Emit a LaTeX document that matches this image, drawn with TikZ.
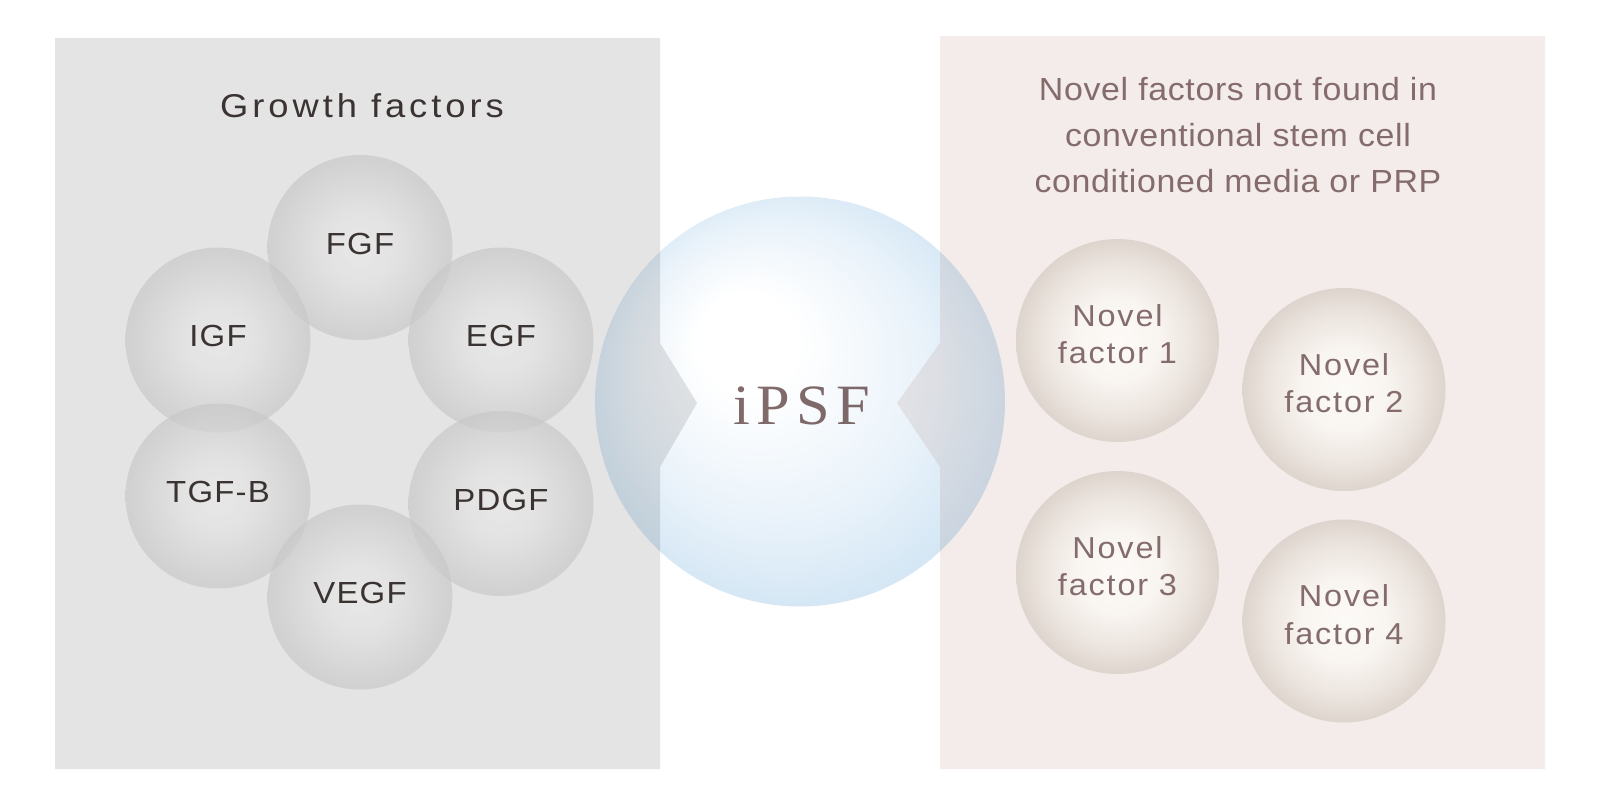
\documentclass[tikz,border=0pt]{standalone}
\usepackage{fontspec}
\setmainfont{Liberation Sans}
\newfontfamily\labfont[LetterSpace=4,FakeStretch=1.08]{Liberation Sans}
\newfontfamily\gffont[LetterSpace=12,FakeStretch=1.1]{Liberation Sans}
\newfontfamily\ttlfont[LetterSpace=2,FakeStretch=1.06]{Liberation Sans}
\newfontfamily\nvfont[LetterSpace=6,FakeStretch=1.07]{Liberation Sans}
\newfontfamily\psffont[LetterSpace=11,FakeStretch=1.06]{Liberation Serif}
\definecolor{panelL}{HTML}{E4E4E4}
\definecolor{panelR}{HTML}{F4ECEA}
\definecolor{txtdark}{HTML}{3A3331}
\definecolor{txtmauve}{HTML}{846C6C}
\definecolor{psfcol}{HTML}{826B6B}
\definecolor{gbc}{HTML}{EAEAEA}
\definecolor{gbmid}{HTML}{E2E2E2}
\definecolor{gbedge}{HTML}{C8C8C8}
\definecolor{nvc}{HTML}{FCFAF7}
\definecolor{nvc2}{HTML}{F9F5F1}
\definecolor{nvm}{HTML}{EDE6E0}
\definecolor{nve}{HTML}{DDD4CD}
\definecolor{bbmid}{HTML}{EAF3FA}
\definecolor{bbedge}{HTML}{D5E7F5}
\pgfdeclareradialshading{grayball}{\pgfpointorigin}{color(0bp)=(gbc); color(10bp)=(gbmid); color(25bp)=(gbedge); color(50bp)=(gbedge)}
\pgfdeclareradialshading{novelball}{\pgfpointorigin}{color(0bp)=(nvc); color(10bp)=(nvc2); color(18bp)=(nvm); color(25bp)=(nve); color(50bp)=(nve)}
\pgfdeclareradialshading{blueball}{\pgfpoint{-8bp}{9bp}}{color(0bp)=(white); color(6bp)=(white); color(18bp)=(bbmid); color(26bp)=(bbedge); color(30bp)=(bbedge)}
\tikzset{
  graycirc/.style={circle, inner sep=0pt, minimum size=185pt, shade, shading=grayball, fill opacity=0.7, text opacity=1, text=txtdark, font=\labfont\fontsize{30.5}{36}\selectfont},
  novelcirc/.style={circle, inner sep=0pt, minimum size=203pt, shade, shading=novelball, text=txtmauve, font=\nvfont\fontsize{30.3}{37.3}\selectfont},
  bigball/.style={circle, inner sep=0pt, minimum size=410pt, shade, shading=blueball, text=psfcol, font=\psffont\fontsize{57}{60}\selectfont},
  heading/.style={inner sep=0pt, font=\gffont\fontsize{33}{40}\selectfont, text=txtdark},
  ttl/.style={inner sep=0pt, font=\ttlfont\fontsize{32}{46}\selectfont, text=txtmauve}
}
\newcommand{\up}[2]{\raisebox{#1}[\height][\depth]{#2}}
\newcommand{\twol}[2]{\up{3pt}{\begin{tabular}{@{}c@{}}#1\\#2\end{tabular}}}
\begin{document}
\begin{tikzpicture}[x=1pt,y=-1pt]
\useasboundingbox (0,0) rectangle (1601,801);
\fill[white] (0,0) rectangle (1601,801);
% panels
\fill[panelL] (55,38) -- (660,38) -- (660,343) -- (697,403) -- (660,467) -- (660,769) -- (55,769) -- cycle;
\fill[panelR] (940,36) -- (1545,36) -- (1545,769) -- (940,769) -- (940,467) -- (897,403) -- (940,343) -- cycle;
% headings
\node[heading, anchor=base] (gf) at (362,117) {Growth factors};
\node[ttl] (title) at (1238,137) {\begin{tabular}{@{}c@{}}Novel factors not found in\\conventional stem cell\\conditioned media or PRP\end{tabular}};
% growth factor circles
\node[graycirc] (fgf) at (360,247.5) {\up{4pt}{FGF}};
\node[graycirc] (igf) at (218,340) {\up{4pt}{IGF}};
\node[graycirc] (egf) at (501,340) {\up{4pt}{EGF}};
\node[graycirc] (tgf) at (218,496) {\up{4pt}{TGF-B}};
\node[graycirc] (pdgf) at (501,503.5) {\up{4pt}{PDGF}};
\node[graycirc] (vegf) at (360,597) {\up{4pt}{VEGF}};
% novel factor circles
\node[novelcirc] (n1) at (1117.5,340.5) {\twol{Novel}{factor 1}};
\node[novelcirc] (n2) at (1344,389.5) {\twol{Novel}{factor 2}};
\node[novelcirc] (n3) at (1117.5,572.5) {\twol{Novel}{factor 3}};
\node[novelcirc] (n4) at (1344,621) {\twol{Novel}{factor 4}};
% central iPSF ball
\begin{scope}[blend mode=multiply]
\node[bigball] (ipsf) at (800,401.5) {\up{-4pt}{\kern3pt iPSF}};
\end{scope}
\end{tikzpicture}
\end{document}
